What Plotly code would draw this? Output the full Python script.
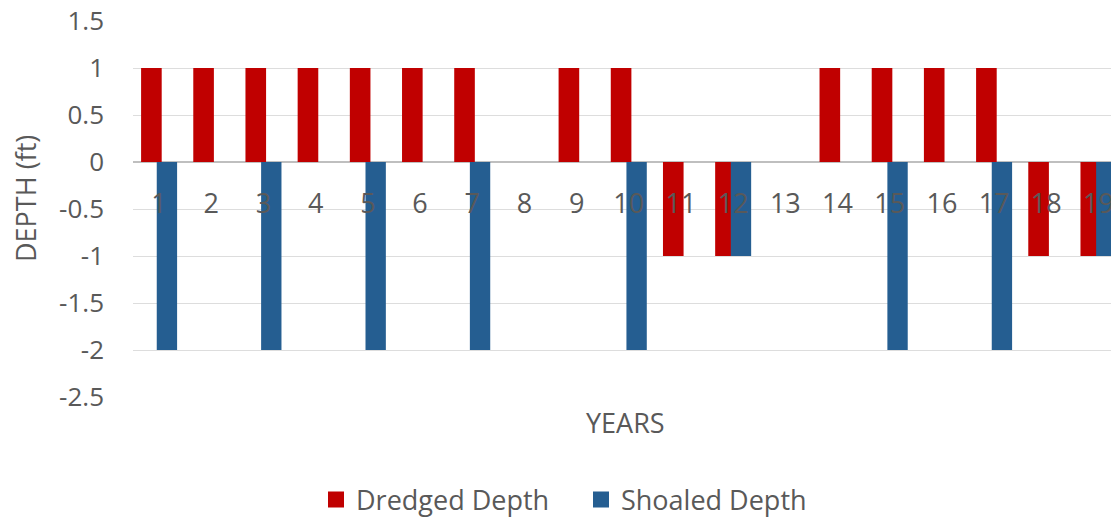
import plotly.graph_objects as go

# Year index along the channel record
years = list(range(1, 20))
year_labels = [str(y) for y in years]

# Depth changes in feet (+ = deeper after dredging, - = loss)
dredged_depth = [1, 1, 1, 1, 1, 1, 1, 0, 1, 1, -1, -1, 0, 1, 1, 1, 1, -1, -1]
shoaled_depth = [-2, 0, -2, 0, -2, 0, -2, 0, 0, -2, 0, -1, 0, 0, -2, 0, -2, 0, -1]

y_ticks = [1.5, 1, 0.5, 0, -0.5, -1, -1.5, -2, -2.5]
y_tick_labels = ["1.5", "1", "0.5", "0", "-0.5", "-1", "-1.5", "-2", "-2.5"]

RED = "#C00000"
BLUE = "#255E91"
TEXT = "#595959"
FONT = "Open Sans"

fig = go.Figure()

fig.add_trace(go.Bar(
    x=years, y=dredged_depth, name="Dredged Depth",
    marker=dict(color=RED, line=dict(width=0)),
    width=0.395, offset=-0.345, showlegend=False,
))
fig.add_trace(go.Bar(
    x=years, y=shoaled_depth, name="Shoaled Depth",
    marker=dict(color=BLUE, line=dict(width=0)),
    width=0.39, offset=-0.045, showlegend=False,
))

# Legend entries with larger square swatches
for name, color in [("Dredged Depth", RED), ("Shoaled Depth", BLUE)]:
    fig.add_trace(go.Scatter(
        x=[None], y=[None], mode="markers", name=name,
        marker=dict(symbol="square", size=17, color=color),
    ))

fig.update_layout(
    width=1111, height=517,
    margin=dict(l=133, r=0, t=21, b=120, autoexpand=False),
    paper_bgcolor="white", plot_bgcolor="white",
    barmode="overlay",
    font=dict(family=FONT, size=27, color=TEXT),
    legend=dict(
        orientation="h", x=(316 - 133) / 978, xanchor="left",
        y=(397 - 500) / 376, yanchor="middle",
        entrywidth=220, entrywidthmode="pixels",
        font=dict(size=27, color=TEXT),
    ),
    xaxis=dict(
        range=[0.5, 19.24],
        tickvals=years, ticktext=year_labels,
        anchor="free", position=0.625,
        showgrid=False, showline=False, zeroline=False,
        ticks="", ticklabelstandoff=23, ticklabeloverflow="allow",
        tickfont=dict(size=27, color=TEXT),
    ),
    yaxis=dict(
        range=[-2.5, 1.5],
        tickvals=y_ticks, ticktext=y_tick_labels,
        showgrid=True, gridcolor="#DDDDDD", gridwidth=1,
        zeroline=True, zerolinecolor="#BFBFBF", zerolinewidth=2,
        showline=False, ticks="", ticklabelstandoff=28,
        tickfont=dict(size=26, color=TEXT),
    ),
    annotations=[
        dict(text="DEPTH (ft)", xref="paper", yref="paper",
             x=(25 - 133) / 978, y=(397 - 199) / 376,
             xanchor="center", yanchor="middle", textangle=-90,
             showarrow=False, font=dict(size=27, color=TEXT)),
        dict(text="YEARS", xref="paper", yref="paper",
             x=(625 - 133) / 978, y=(397 - 423) / 376,
             xanchor="center", yanchor="middle",
             showarrow=False, font=dict(size=27, color=TEXT)),
    ],
)

fig.write_html("out.html")
